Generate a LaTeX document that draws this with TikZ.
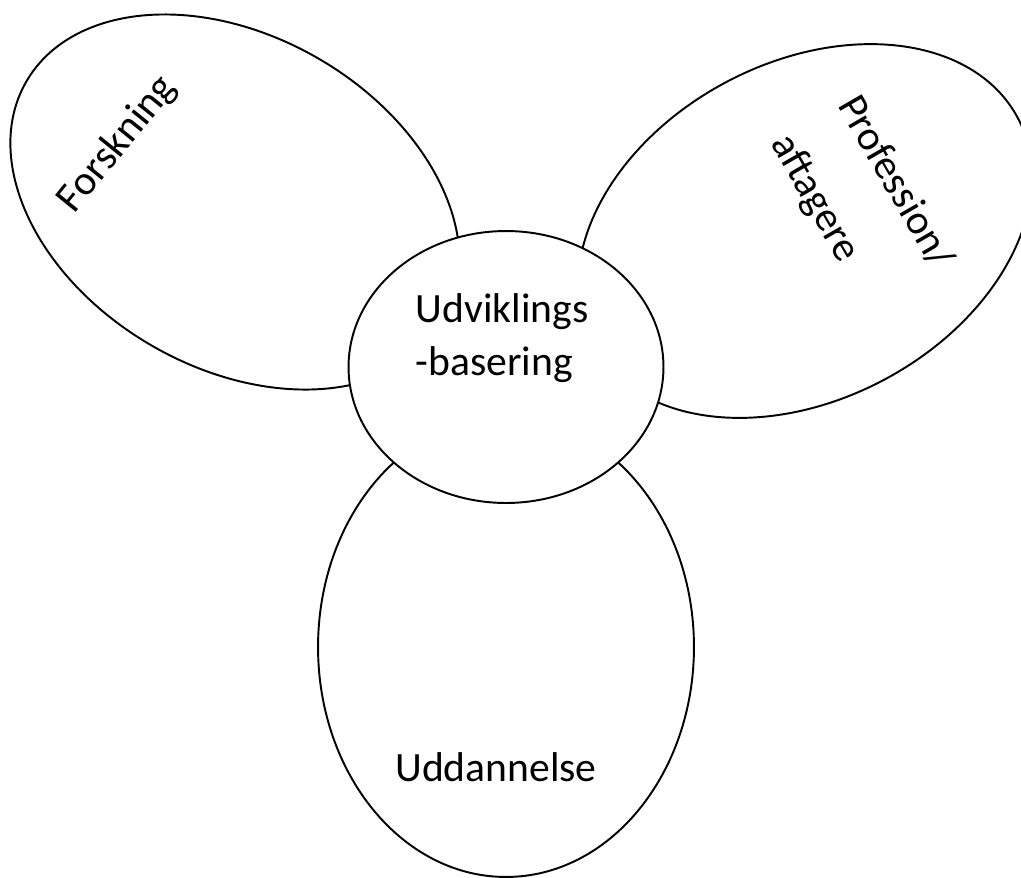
\documentclass[tikz,border=0pt]{standalone}
\usepackage{fontspec}
\setmainfont{Carlito}
\usetikzlibrary{positioning, shapes.geometric}
\tikzset{
  petal/.style={draw, ellipse, line width=1.1pt, inner sep=0pt, minimum width=9.64cm, minimum height=6.64cm},
  hub/.style={draw, ellipse, fill=white, line width=1.1pt, inner sep=0pt, minimum width=6.3cm, minimum height=5.44cm},
  word/.style={font=\fontsize{23.7}{30.2}\selectfont, align=left, inner sep=0pt},
}

\begin{document}
\begin{tikzpicture}[x=0.02cm, y=-0.02cm]
  \useasboundingbox (0,0) rectangle (1021,877);
  \clip (0,0) rectangle (1021,877);
  % petals
  \node[petal, rotate=-30] (forskning) at (235,202) {};
  \node[petal, rotate=28, minimum height=6.74cm] (profession) at (805,231) {};
  \node[petal, minimum width=7.52cm, minimum height=9.2cm] (uddannelse) at (506,647) {};
  % centre
  \node[hub] (udvikling) at (506,367) {};
  % texts
  \node[word, anchor=base, rotate=51] (forskningtxt) at (126,151) {Forskning};
  \node[word, rotate=-60, font=\fontsize{23.7}{44}\selectfont] (professiontxt) at (861,202) {Profession/\\aftagere};
  \node[word] (udviklingtxt) at (502,338) {Udviklings\\-basering};
  \node[word, anchor=base] (uddannelsetxt) at (496,781) {Uddannelse};
\end{tikzpicture}
\end{document}
